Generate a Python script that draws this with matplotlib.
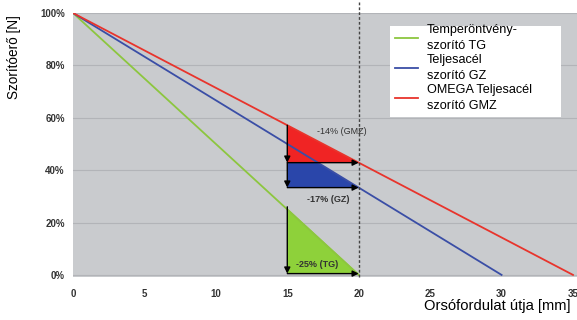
import matplotlib.pyplot as plt
from matplotlib.patches import Rectangle

# --- datos ---
tg_x = [0, 20]
tg_y = [100, 0]
gz_x = [0, 30]
gz_y = [100, 0]
gmz_x = [0, 35]
gmz_y = [100, 0]

x_ticks = [0, 5, 10, 15, 20, 25, 30, 35]
y_ticks = [0, 20, 40, 60, 80, 100]

labels = ["Temperöntvény-\nszorító TG", "Teljesacél\nszorító GZ", "OMEGA Teljesacél\nszorító GMZ"]
colors = ["#8cc63f", "#3a4ea6", "#e8342c"]
fill_colors = ["#8ed13a", "#2a46aa", "#f02424"]

x_start = 15
x_end = 20
drop_texts = ["-25% (TG)", "-17% (GZ)", "-14% (GMZ)"]


def value_at(xs, ys, x):
    return ys[0] + (ys[1] - ys[0]) * (x - xs[0]) / (xs[1] - xs[0])


font = ["Liberation Sans", "DejaVu Sans"]

fig = plt.figure(figsize=(5.77, 3.2), dpi=100)
ax = fig.add_axes([73 / 577, 1 - 277 / 320, 504 / 577, 264 / 320])
ax.set_facecolor("#c9cbce")
ax.set_xlim(0, 35.28)
ax.set_ylim(-0.8, 100)

for y in y_ticks:
    ax.axhline(y, color="#b2b4b8", lw=0.8, zorder=1)

# --- areas de caida ---
tg_a = value_at(tg_x, tg_y, x_start)
gz_b = value_at(gz_x, gz_y, x_end)
gmz_a = value_at(gmz_x, gmz_y, x_start)
gmz_b = value_at(gmz_x, gmz_y, x_end)

ax.fill([x_start, x_start, x_end], [gmz_a, gmz_b, gmz_b], color=fill_colors[2], lw=0, zorder=2)
gz_cross = gz_x[0] + (gmz_b - gz_y[0]) * (gz_x[1] - gz_x[0]) / (gz_y[1] - gz_y[0])
ax.fill([x_start, gz_cross, x_end, x_start], [gmz_b, gmz_b, gz_b, gz_b],
        color=fill_colors[1], lw=0, zorder=2)
ax.fill([x_start, x_start, x_end], [tg_a + 0.5, 0.5, 0.5], color=fill_colors[0], lw=0, zorder=2)

# --- lineas ---
ax.plot(tg_x, tg_y, color=colors[0], lw=1.3, label=labels[0], zorder=3)
ax.plot(gz_x, gz_y, color=colors[1], lw=1.3, label=labels[1], zorder=3)
ax.plot(gmz_x, gmz_y, color=colors[2], lw=1.3, label=labels[2], zorder=3)

ax.axvline(x_end, ymin=0, ymax=1.04, color="#444444", lw=1.0, ls=(0, (2, 1.5)),
           clip_on=False, zorder=4)

# --- flechas ---
arrow = dict(arrowstyle="-|>", color="black", lw=1.0, mutation_scale=9, shrinkA=0, shrinkB=0)
segs = [
    ((x_start, gmz_a), (x_start, gmz_b)),
    ((x_start, gmz_b), (x_end, gmz_b)),
    ((x_start, gmz_b), (x_start, gz_b)),
    ((x_start, gz_b), (x_end, gz_b)),
    ((x_start, tg_a + 1), (x_start, 0.5)),
    ((x_start, 0.5), (x_end, 0.5)),
]
for a, b in segs:
    ax.annotate("", xy=b, xytext=a, arrowprops=arrow, zorder=5)

ax.text(18.8, 54.6, drop_texts[2], fontsize=6.5, color="#333333", ha="center", va="center",
        family=font, zorder=6)
ax.text(17.85, 28.6, drop_texts[1], fontsize=6.5, color="#333333", ha="center", va="center",
        family=font, weight="bold", zorder=6)
ax.text(17.1, 3.8, drop_texts[0], fontsize=6.5, color="#333333", ha="center", va="center",
        family=font, weight="bold", zorder=6)

# --- ejes ---
ax.set_xticks(x_ticks)
ax.set_yticks(y_ticks)
ax.set_xticklabels([str(v) for v in x_ticks], family=font, weight="bold",
                   fontsize=7, color="#333333")
ax.set_yticklabels([f"{v}%" for v in y_ticks], family=font, weight="bold",
                   fontsize=7, color="#333333")
ax.tick_params(axis="y", length=0, pad=6)
ax.tick_params(axis="x", length=0, pad=8.6)
for s in ax.spines.values():
    s.set_visible(False)

fig.text(14 / 577, 1 - 57 / 320, "Szorítóerő [N]", rotation=90, ha="center", va="center",
         fontsize=9.8, family=font)
fig.text(571 / 577, 1 - 306 / 320, "Orsófordulat útja [mm]", ha="right", va="center",
         fontsize=10.6, family=font)

# --- leyenda ---
ax.add_patch(Rectangle((390 / 577, 1 - 117 / 320), 171 / 577, 91 / 320, transform=fig.transFigure,
                       facecolor="white", edgecolor="none", clip_on=False, zorder=6))
leg = ax.legend(loc="upper left", bbox_to_anchor=(395 / 577, 1 - 24 / 320),
                bbox_transform=fig.transFigure, frameon=False,
                prop={"family": font, "size": 9.1}, handlelength=1.8, handletextpad=0.7,
                labelspacing=0.15, borderpad=0, borderaxespad=0)
for t in leg.get_texts():
    t.set_linespacing(1.45)
leg.set_zorder(7)

fig.savefig("out.png", dpi=100)
